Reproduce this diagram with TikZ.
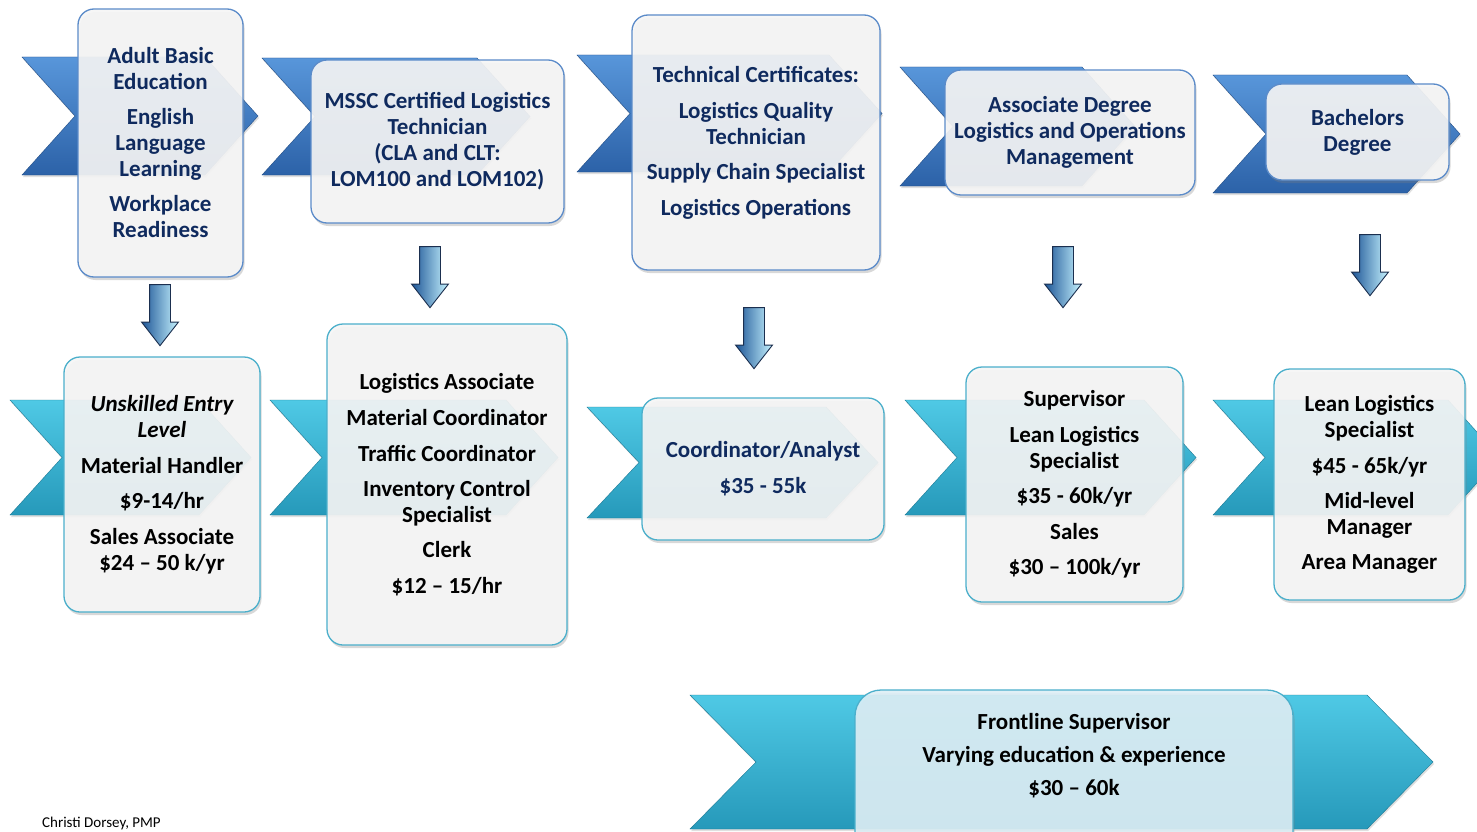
\documentclass[tikz,border=0pt]{standalone}
\usepackage{fontspec}
\setmainfont{Carlito}
\usepackage{tikz}
\usetikzlibrary{positioning,shapes.arrows,shadows}

\definecolor{navytext}{HTML}{0F2A5E}
\definecolor{blueL}{HTML}{5896DA}
\definecolor{blueD}{HTML}{2C62A8}
\definecolor{cyanL}{HTML}{4FC9E5}
\definecolor{cyanD}{HTML}{2699BA}
\definecolor{boxgray}{HTML}{F6F6F6}
\definecolor{boxcyan}{HTML}{DDEFF6}
\definecolor{rimblue}{HTML}{5B8BC9}
\definecolor{rimcyan}{HTML}{4BAFCB}
\definecolor{arrowD}{HTML}{1D5596}
\definecolor{arrowL}{HTML}{C6F3FF}
\definecolor{arrowrim}{HTML}{1B2F4F}

% chevron: x-left, x-tip, y-top, y-bottom, depth, style
\newcommand{\chev}[6]{%
  \path[#6] (#1,#3) -- (#2-#5,#3) -- (#2,{(#3+#4)/2}) -- (#2-#5,#4)
    -- (#1,#4) -- (#1+#5,{(#3+#4)/2}) -- cycle;}

\begin{document}
\begin{tikzpicture}[x=1pt,y=-1pt]
	\tikzstyle{bluechev}=[top color=blueL, bottom color=blueD, draw=blueD!80!black, line width=0.4pt,
		drop shadow={opacity=0.25, shadow xshift=1pt, shadow yshift=-2pt}]
	\tikzstyle{cyanchev}=[top color=cyanL, bottom color=cyanD, draw=cyanD!80!black, line width=0.4pt,
		drop shadow={opacity=0.25, shadow xshift=1pt, shadow yshift=-2pt}]
	\tikzstyle{card}=[rounded corners=16pt, line width=1.3pt, fill opacity=0.9, text opacity=1,
		inner sep=0pt, align=center, font=\bfseries\fontsize{23}{26}\selectfont,
		drop shadow={opacity=0.3, shadow xshift=1.5pt, shadow yshift=-3pt}]
	\tikzstyle{bluecard}=[card, draw=rimblue, fill=boxgray, text=navytext]
	\tikzstyle{cyancard}=[card, draw=rimcyan, fill=boxgray, text=black]
	\tikzstyle{downarrow}=[single arrow, rotate=-90, draw=arrowrim, line width=0.9pt,
		minimum height=61pt, inner ysep=10pt, inner xsep=0pt, single arrow head extend=8pt,
		single arrow tip angle=76, left color=arrowD, right color=arrowL]
	\useasboundingbox (0,0) rectangle (1477,832);
	\clip (0,0) rectangle (1477,832);
	\fill[white] (0,0) rectangle (1477,832);

		% education chevrons
		\chev{22}{258}{57}{175}{53}{bluechev}
		\chev{262}{530}{58}{175}{53}{bluechev}
		\chev{577}{882}{55}{172}{53}{bluechev}
		\chev{900}{1135}{67}{186}{53}{bluechev}
		\chev{1213}{1460}{75}{193}{53}{bluechev}
		% job chevrons
		\chev{10}{251}{400}{515}{52}{cyanchev}
		\chev{270}{558}{400}{515}{52}{cyanchev}
		\chev{587}{878}{407}{518}{52}{cyanchev}
		\chev{905}{1196}{400}{515}{52}{cyanchev}
		\chev{1213}{1500}{400}{515}{52}{cyanchev}
		\chev{690}{1433}{695}{829}{66}{cyanchev}

		% education cards
		\node[bluecard, minimum width=165pt, minimum height=268pt] (abe) at (160.5,143)
			{Adult Basic\\Education\\[9pt]English\\Language\\Learning\\[9pt]Workplace\\Readiness};
		\node[bluecard, minimum width=253pt, minimum height=163pt] (mssc) at (437.5,141.5)
			{MSSC Certified Logistics\\Technician\\(CLA and CLT:\\LOM100 and LOM102)};
		\node[bluecard, minimum width=248pt, minimum height=255pt] (tech) at (756,142.5)
			{Technical Certificates:\\[10pt]Logistics Quality\\Technician\\[9pt]Supply Chain Specialist\\[10pt]Logistics Operations};
		\node[bluecard, minimum width=250pt, minimum height=125pt] (assoc) at (1070,132.5)
			{Associate Degree\\Logistics and Operations\\Management};
		\node[bluecard, minimum width=183pt, minimum height=96pt] (bach) at (1357.5,132)
			{Bachelors\\Degree};

		% job cards
		\node[cyancard, minimum width=196pt, minimum height=255pt] (entry) at (162,484.5)
			{{\itshape Unskilled Entry}\\{\itshape Level}\\[10pt]Material Handler\\[9pt]\$9-14/hr\\[10pt]Sales Associate\\\$24 -- 50 k/yr};
		\node[cyancard, minimum width=240pt, minimum height=321pt] (lassoc) at (447,484.5)
			{Logistics Associate\\[10pt]Material Coordinator\\[10pt]Traffic Coordinator\\[9pt]Inventory Control\\Specialist\\[9pt]Clerk\\[10pt]\$12 -- 15/hr};
		\node[cyancard, text=navytext, minimum width=242pt, minimum height=142pt] (coord) at (763,469)
			{Coordinator/Analyst\\[10pt]\$35 - 55k};
		\node[cyancard, minimum width=217pt, minimum height=235pt] (super) at (1074.5,484.5)
			{Supervisor\\[10pt]Lean Logistics\\Specialist\\[9pt]\$35 - 60k/yr\\[10pt]Sales\\[9pt]\$30 -- 100k/yr};
		\node[cyancard, minimum width=191pt, minimum height=231pt] (lean) at (1369.5,484.5)
			{Lean Logistics\\Specialist\\[10pt]\$45 - 65k/yr\\[9pt]Mid-level\\Manager\\[9pt]Area Manager};
		\node[cyancard, fill=boxcyan, rounded corners=26pt, minimum width=438pt, minimum height=190pt] (front) at (1074,785) {};
		\node[font=\bfseries\fontsize{23}{26}\selectfont, align=center] (fronttext) at (1074,756)
			{Frontline Supervisor\\[7pt]Varying education \& experience\\[7pt]\$30 -- 60k};

		% arrows down
		\node[downarrow] (a1) at (160,308.5) {};
		\node[downarrow] (a2) at (430,270.5) {};
		\node[downarrow] (a3) at (754,331.5) {};
		\node[downarrow] (a4) at (1063,270.5) {};
		\node[downarrow] (a5) at (1370,258.5) {};

		\node[anchor=south west, inner sep=0pt, font=\fontsize{15}{18}\selectfont] (author) at (42,830) {Christi Dorsey, PMP};
\end{tikzpicture}
\end{document}
